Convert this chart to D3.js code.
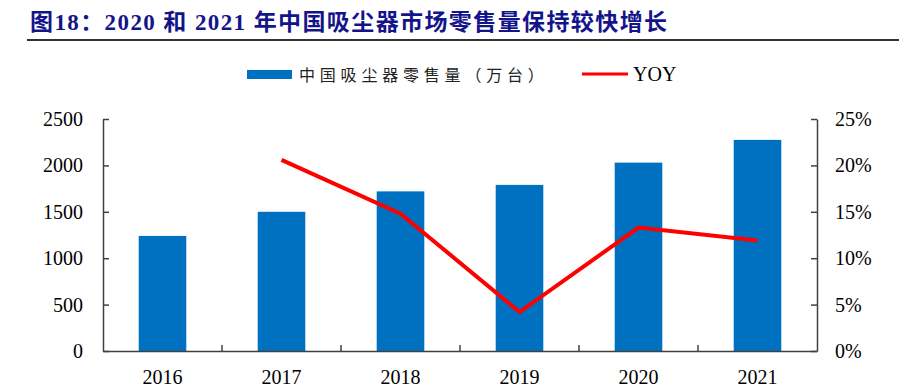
<!DOCTYPE html>
<meta charset="utf-8">
<style>
body { margin: 0; background: #fff; }
text { font-family: "Liberation Serif", "Noto Sans CJK SC", serif; }
.axis path, .axis line { stroke: #404040; stroke-width: 1.5px; }
.axis text { font-size: 20px; fill: #000; }
</style>
<body>
<script src="https://cdn.jsdelivr.net/npm/d3@7"></script>
<script>

var years = ["2016", "2017", "2018", "2019", "2020", "2021"];
var sales = [1240, 1500, 1720, 1790, 2030, 2275];       // 万台
var yoy = [null, 20.6, 14.8, 4.2, 13.3, 11.9];          // %
var leftTicks = [0, 500, 1000, 1500, 2000, 2500];
var rightTicks = [0, 5, 10, 15, 20, 25];

var width = 899, height = 391;
var plot = {left: 103, right: 817, top: 119, bottom: 351};

var svg = d3.select("body").append("svg")
    .attr("width", width)
    .attr("height", height);

// title
svg.append("text")
    .attr("x", 30)
    .attr("y", 30)
    .attr("font-size", "23px")
    .attr("font-weight", "bold")
    .attr("letter-spacing", "1.4px")
    .attr("fill", "#14148a")
    .text("图18：2020 和 2021 年中国吸尘器市场零售量保持较快增长");

svg.append("line")
    .attr("x1", 27).attr("x2", 899)
    .attr("y1", 40).attr("y2", 40)
    .attr("stroke", "#333")
    .attr("stroke-width", 2);

var x = d3.scaleBand().domain(years).range([plot.left, plot.right]);
var y = d3.scaleLinear().domain([0, 2500]).range([plot.bottom, plot.top]);
var y2 = d3.scaleLinear().domain([0, 25]).range([plot.bottom, plot.top]);

// bars
var barW = x.bandwidth() * 0.4;
svg.selectAll(".bar")
    .data(years)
  .enter().append("rect")
    .attr("class", "bar")
    .attr("x", function(d) { return x(d) + (x.bandwidth() - barW) / 2; })
    .attr("y", function(d, i) { return y(sales[i]); })
    .attr("width", barW)
    .attr("height", function(d, i) { return plot.bottom - y(sales[i]); })
    .attr("fill", "#0070c0");

// left axis
svg.append("g")
    .attr("class", "axis")
    .attr("transform", "translate(" + plot.left + ",0)")
    .call(d3.axisLeft(y).tickValues(leftTicks).tickSize(-6).tickPadding(20).tickSizeOuter(0)
      .tickFormat(d3.format("d")));

// right axis
svg.append("g")
    .attr("class", "axis")
    .attr("transform", "translate(" + plot.right + ",0)")
    .call(d3.axisRight(y2).tickValues(rightTicks).tickSize(-6).tickPadding(18).tickSizeOuter(0)
      .tickFormat(function(d) { return d + "%"; }));

// bottom axis
var xAxis = svg.append("g")
    .attr("class", "axis")
    .attr("transform", "translate(0," + plot.bottom + ")")
    .call(d3.axisBottom(x).tickSize(0).tickPadding(19));

xAxis.selectAll(".bound")
    .data(years.slice(1))
  .enter().append("line")
    .attr("class", "bound")
    .attr("x1", function(d) { return x(d); })
    .attr("x2", function(d) { return x(d); })
    .attr("y1", 0).attr("y2", -6);

// yoy line
var line = d3.line()
    .defined(function(d) { return d.v != null; })
    .x(function(d) { return x(d.year) + x.bandwidth() / 2; })
    .y(function(d) { return y2(d.v); });

svg.append("path")
    .datum(years.map(function(d, i) { return {year: d, v: yoy[i]}; }))
    .attr("d", line)
    .attr("fill", "none")
    .attr("stroke", "#ff0000")
    .attr("stroke-width", 4);

// legend
svg.append("rect")
    .attr("x", 247).attr("y", 70)
    .attr("width", 45).attr("height", 9)
    .attr("fill", "#0070c0");

svg.append("text")
    .attr("x", 299).attr("y", 81)
    .attr("font-size", "16px")
    .attr("letter-spacing", "4.8px")
    .attr("fill", "#222")
    .style("font-family", "'Noto Sans CJK SC'")
    .text("中国吸尘器零售量（万台）");

svg.append("line")
    .attr("x1", 582).attr("x2", 628)
    .attr("y1", 74).attr("y2", 74)
    .attr("stroke", "#ff0000")
    .attr("stroke-width", 3);

svg.append("text")
    .attr("x", 633).attr("y", 81)
    .attr("font-size", "20px")
    .text("YOY");

</script>
</body>
</html>
